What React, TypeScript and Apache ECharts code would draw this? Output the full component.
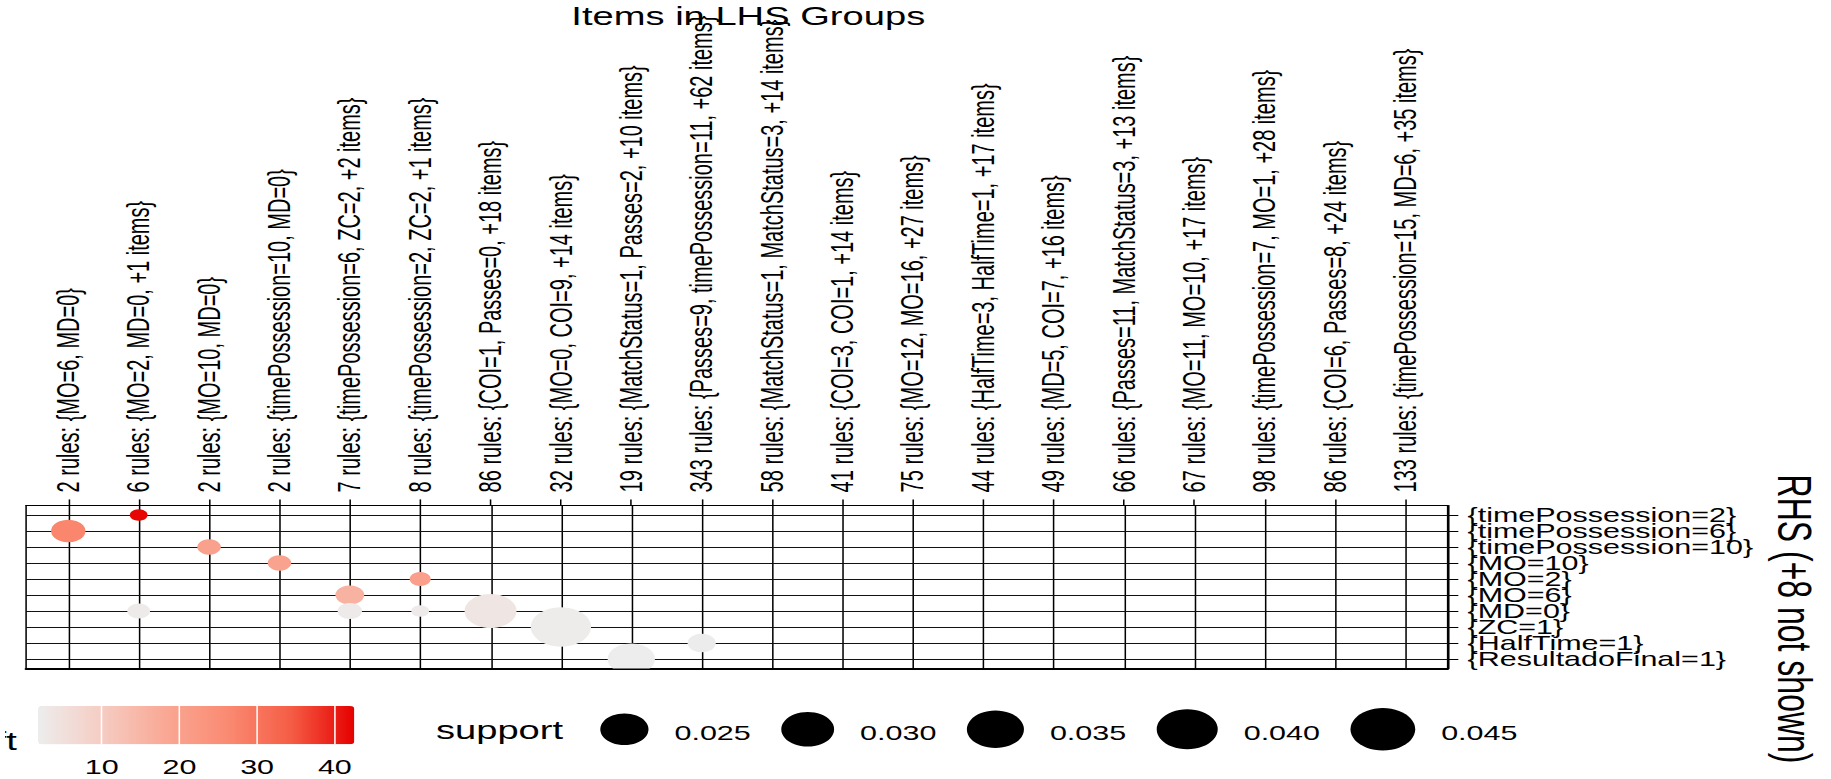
import React, { useEffect, useRef } from "react";
import * as echarts from "echarts";

// The reference is an R plot drawn at ~1200 px wide and stretched horizontally to 1831 px.
const W = 1200;
const H = 779;
const STRETCH = 1831 / W;
const FONT = '"Liberation Sans", Arial, Helvetica, sans-serif';

// ---------- data ----------
const lhsGroups = [
  "2 rules: {MO=6, MD=0}",
  "6 rules: {MO=2, MD=0, +1 items}",
  "2 rules: {MO=10, MD=0}",
  "2 rules: {timePossession=10, MD=0}",
  "7 rules: {timePossession=6, ZC=2, +2 items}",
  "8 rules: {timePossession=2, ZC=2, +1 items}",
  "86 rules: {COI=1, Passes=0, +18 items}",
  "32 rules: {MO=0, COI=9, +14 items}",
  "19 rules: {MatchStatus=1, Passes=2, +10 items}",
  "343 rules: {Passes=9, timePossession=11, +62 items}",
  "58 rules: {MatchStatus=1, MatchStatus=3, +14 items}",
  "41 rules: {COI=3, COI=1, +14 items}",
  "75 rules: {MO=12, MO=16, +27 items}",
  "44 rules: {HalfTime=3, HalfTime=1, +17 items}",
  "49 rules: {MD=5, COI=7, +16 items}",
  "66 rules: {Passes=11, MatchStatus=3, +13 items}",
  "67 rules: {MO=11, MO=10, +17 items}",
  "98 rules: {timePossession=7, MO=1, +28 items}",
  "86 rules: {COI=6, Passes=8, +24 items}",
  "133 rules: {timePossession=15, MD=6, +35 items}",
];

const rhsItems = [
  "{timePossession=2}",
  "{timePossession=6}",
  "{timePossession=10}",
  "{MO=10}",
  "{MO=2}",
  "{MO=6}",
  "{MD=0}",
  "{ZC=1}",
  "{HalfTime=1}",
  "{ResultadoFinal=1}",
];

// one entry per bubble: LHS group (column, 1-based), RHS item (row, 1-based), support, lift
const bubbleCol = [1, 2, 2, 3, 4, 5, 5, 6, 6, 7, 8, 9, 10];
const bubbleRow = [2, 1, 7, 3, 4, 6, 7, 5, 7, 7, 8, 10, 9];
const bubbleSupport = [0.0127, 0.0034, 0.0056, 0.006, 0.006, 0.009, 0.0064, 0.0048, 0.0034, 0.029, 0.039, 0.024, 0.0086];
const bubbleLift = [27, 42, 2.5, 20, 19.5, 16, 2.6, 20.5, 2.6, 3.8, 2.2, 1.9, 2.1];

const liftRange = [1.85, 42.5];
const liftTicks = [10, 20, 30, 40];
const liftColors = ["#ededed", "#f5cdc3", "#f9a895", "#fa8a72", "#f55d45", "#e50000"];
const supportLegend = [0.025, 0.03, 0.035, 0.04, 0.045];

// ---------- layout ----------
const GRID = { left: 17.1, top: 505.4, width: 946.6, height: 163.2 };
const BAR = { left: 25.1, top: 706, width: 207.1, height: 38.3 };
const diameter = (s: number) => 200 * Math.sqrt(s);

const colIdx = lhsGroups.map((_, i) => i + 1);
const rowIdx = rhsItems.map((_, i) => i + 1);
// RHS labels overlap their neighbours (as in the reference); split across two
// coincident axes so that no label is dropped by the overlap logic.
const rowIdxOdd = rowIdx.filter((r) => r % 2 === 1);
const rowIdxEven = rowIdx.filter((r) => r % 2 === 0);

function buildOption() {
  const xMin = 0.4, xMax = lhsGroups.length + 0.6;
  const yMin = 0.4, yMax = rhsItems.length + 0.6;

  // size legend, laid out left to right
  const legendEls: any[] = [];
  const legendY = 729.3;
  let cursor = 393.4;
  supportLegend.forEach((s) => {
    const d = diameter(s);
    legendEls.push({
      type: "circle",
      shape: { cx: cursor + d / 2, cy: legendY, r: d / 2 },
      style: { fill: "#000" },
    });
    cursor += d + 17;
    legendEls.push({
      type: "text",
      x: cursor,
      y: 733.1,
      style: { text: s.toFixed(3), fontSize: 20, fontFamily: FONT, fill: "#000", align: "left", verticalAlign: "middle" },
    });
    cursor += 50 + 20;
  });

  const rowLabel = (values: number[]) => ({
    show: true, customValues: values, fontSize: 20, color: "#000", fontFamily: FONT, margin: 13,
    showMinLabel: true, showMaxLabel: true, hideOverlap: false,
    formatter: (v: number) => rhsItems[Math.round(v) - 1] ?? "",
  });

  return {
    animation: false,
    backgroundColor: "#ffffff",
    textStyle: { fontFamily: FONT },
    grid: [
      { ...GRID, show: true, borderColor: "#000", borderWidth: 1, backgroundColor: "transparent" },
      { ...BAR },
    ],
    xAxis: [
      {
        gridIndex: 0, type: "value", position: "top", min: xMin, max: xMax,
        axisLine: { show: true, lineStyle: { color: "#000", width: 1 } },
        axisTick: { show: true, customValues: colIdx, length: 6, lineStyle: { color: "#000", width: 1 } },
        axisLabel: {
          show: true, customValues: colIdx, rotate: -90, fontSize: 20, color: "#000", fontFamily: FONT,
          margin: 13, padding: [5, 0, 0, 0], showMinLabel: true, showMaxLabel: true,
          formatter: (v: number) => lhsGroups[Math.round(v) - 1] ?? "",
        },
        splitLine: { show: false },
      },
      {
        gridIndex: 0, type: "value", position: "bottom", min: xMin, max: xMax,
        axisLine: { show: true, lineStyle: { color: "#000", width: 2 } },
        axisTick: { show: false }, axisLabel: { show: false }, splitLine: { show: false },
      },
      {
        gridIndex: 1, type: "value", min: liftRange[0], max: liftRange[1], z: 10,
        axisLine: { show: false },
        axisTick: { show: true, inside: true, customValues: liftTicks, length: BAR.height, lineStyle: { color: "#fff", width: 1 } },
        axisLabel: { show: true, customValues: liftTicks, fontSize: 20, color: "#000", fontFamily: FONT, margin: 13 },
        splitLine: { show: false },
      },
    ],
    yAxis: [
      {
        gridIndex: 0, type: "value", position: "right", inverse: true, min: yMin, max: yMax,
        axisLine: { show: true, lineStyle: { color: "#000", width: 1 } },
        axisTick: { show: true, customValues: rowIdx, length: 7, lineStyle: { color: "#000", width: 1 } },
        axisLabel: rowLabel(rowIdxOdd),
        splitLine: { show: false },
        name: "RHS (+8 not shown)", nameLocation: "middle", nameRotate: -90, nameGap: 202,
        nameTextStyle: { fontSize: 32, color: "#000", fontFamily: FONT, padding: [0, 0, 0, 64] },
      },
      { gridIndex: 1, type: "value", show: false, min: 0, max: 1 },
      {
        gridIndex: 0, type: "value", position: "right", offset: 0, inverse: true, min: yMin, max: yMax,
        axisLine: { show: false }, axisTick: { show: false },
        axisLabel: rowLabel(rowIdxEven),
        splitLine: { show: false },
      },
    ],
    visualMap: {
      type: "continuous", show: true, seriesIndex: 2, dimension: 3,
      min: liftRange[0], max: liftRange[1],
      orient: "horizontal", left: BAR.left, top: BAR.top,
      itemWidth: BAR.height, itemHeight: BAR.width, padding: 0,
      calculable: false, hoverLink: false, realtime: false,
      inRange: { color: liftColors },
    },
    series: [
      {
        name: "vlines", type: "custom", xAxisIndex: 0, yAxisIndex: 0, silent: true,
        data: colIdx.map((c) => [c, 1]),
        renderItem: (_p: any, api: any) => {
          const x = api.value(0);
          const a = api.coord([x, yMin]);
          const b = api.coord([x, yMax]);
          const px = Math.round(a[0]) + 0.5;
          return { type: "line", shape: { x1: px, y1: a[1], x2: px, y2: b[1] }, style: { stroke: "#000", lineWidth: 1 } };
        },
      },
      {
        name: "hlines", type: "custom", xAxisIndex: 0, yAxisIndex: 0, silent: true,
        data: rowIdx.map((r) => [1, r]),
        renderItem: (_p: any, api: any) => {
          const y = api.value(1);
          const a = api.coord([xMin, y]);
          const b = api.coord([xMax, y]);
          const py = Math.round(a[1]) + 0.5;
          return { type: "line", shape: { x1: a[0], y1: py, x2: b[0], y2: py }, style: { stroke: "#111", lineWidth: 1 } };
        },
      },
      {
        name: "rules", type: "custom", xAxisIndex: 0, yAxisIndex: 0, clip: true,
        dimensions: ["lhs", "rhs", "support", "lift"],
        encode: { x: 0, y: 1 },
        data: bubbleCol.map((c, i) => [c, bubbleRow[i], bubbleSupport[i], bubbleLift[i]]),
        renderItem: (_p: any, api: any) => {
          const p = api.coord([api.value(0), api.value(1)]);
          const r = diameter(api.value(2)) / 2;
          return { type: "circle", shape: { cx: p[0], cy: p[1], r }, style: { fill: api.visual("color") } };
        },
      },
    ],
    graphic: [
      {
        type: "text", x: GRID.left + GRID.width / 2, y: 3.8,
        style: { text: "Items in LHS Groups", fontSize: 25, fontFamily: FONT, fill: "#000", align: "center", verticalAlign: "top" },
      },
      {
        type: "text", x: 11, y: 741.3,
        style: { text: "lift", fontSize: 25, fontFamily: FONT, fill: "#000", align: "right", verticalAlign: "middle" },
      },
      {
        type: "rect", z: 100, shape: { x: 0, y: 722, width: 3.3, height: 34 },
        style: { fill: "#fff" },
      },
      {
        type: "text", x: 285.7, y: 730.3,
        style: { text: "support", fontSize: 25, fontFamily: FONT, fill: "#000", align: "left", verticalAlign: "middle" },
      },
      ...legendEls,
    ],
  };
}

export default function App() {
  const ref = useRef<HTMLDivElement>(null);
  useEffect(() => {
    if (!ref.current) return;
    const chart = echarts.init(ref.current, undefined, { renderer: "svg" });
    chart.setOption(buildOption() as any);
    return () => chart.dispose();
  }, []);
  return (
    <div
      style={{
        position: "fixed", left: 0, top: 0, width: W, height: H,
        transform: `scaleX(${STRETCH})`, transformOrigin: "0 0", background: "#fff", overflow: "hidden",
      }}
    >
      <div ref={ref} style={{ width: W, height: H }} />
    </div>
  );
}
